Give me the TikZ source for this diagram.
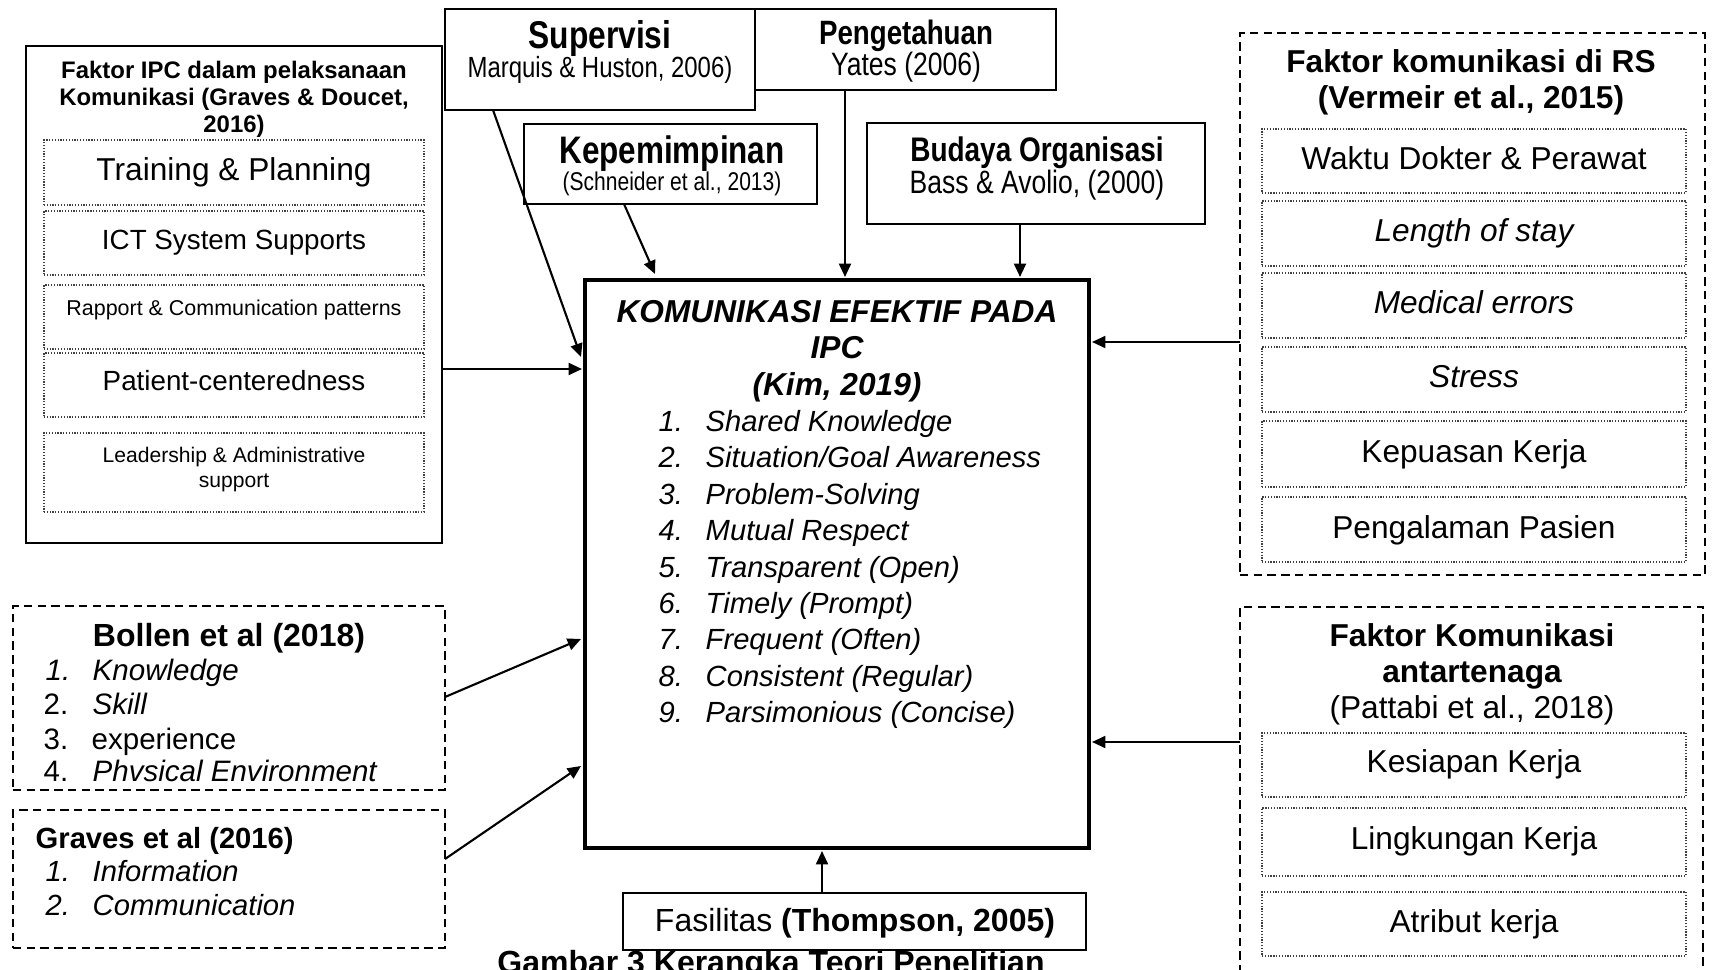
\documentclass[tikz,border=0pt]{standalone}
\usepackage{fontspec}
\setmainfont{Liberation Sans}
\newfontfamily\narrowsans[FakeStretch=0.82]{Liberation Sans}
\usetikzlibrary{arrows.meta,calc,fit}
\newcommand\tsize[1]{\fontsize{#1}{#1}\selectfont}
\begin{document}
\begin{tikzpicture}[x=0.01cm, y=-0.01cm,
  box/.style={draw, line width=0.45pt, fill=white, inner sep=0pt, outer sep=0pt},
  boldbox/.style={draw, line width=0.75pt, fill=white, inner sep=0pt, outer sep=0pt},
  outerdash/.style={draw, line width=0.5pt, dash pattern=on 2.4pt off 1.5pt, inner sep=0pt, outer sep=0pt},
  dotbox/.style={draw=black!75, line width=0.35pt, dash pattern=on 0.35pt off 0.45pt, inner sep=0pt, outer sep=0pt},
  mainbox/.style={draw, line width=1.25pt, inner sep=0pt, outer sep=0pt},
  txt/.style={inner sep=0pt, anchor=base},
  ltxt/.style={inner sep=0pt, anchor=base west},
  link/.style={line width=0.6pt, -{Triangle[length=3.8pt,width=3.4pt]}}]
\useasboundingbox (0,0) rectangle (1712,970);

% ---------- top sources ----------
\node[box, fit={(755,9) (1056,90)}] (peng) {};
\node[txt, font=\narrowsans\tsize{9.6}\bfseries] (pengT) at (906,45) {Pengetahuan};
\node[txt, font=\narrowsans\tsize{9.2}] (pengS) at (906,76) {Yates (2006)};

\node[box, fit={(445,9) (755,110)}] (sup) {};
\node[txt, font=\narrowsans\tsize{11}\bfseries] (supT) at (600,49) {Supervisi};
\node[txt, font=\narrowsans\tsize{8.3}] (supS) at (600,78) {Marquis \& Huston, 2006)};

\node[box, fit={(524,124) (817,204)}] (kep) {};
\node[txt, font=\narrowsans\tsize{10.9}\bfseries] (kepT) at (672,164) {Kepemimpinan};
\node[txt, font=\narrowsans\tsize{7.3}] (kepS) at (672,191) {(Schneider et al., 2013)};

\node[boldbox, fit={(867,123) (1205,224)}] (bud) {};
\node[txt, font=\narrowsans\tsize{9.7}\bfseries] (budT) at (1037,162) {Budaya Organisasi};
\node[txt, font=\narrowsans\tsize{9.2}] (budS) at (1037,193) {Bass \& Avolio, (2000)};

% ---------- central construct ----------
\node[mainbox, fit={(585,280) (1089,848)}] (main) {};
\node[txt, font=\tsize{9}\bfseries\itshape] (mainT1) at (837,322) {KOMUNIKASI EFEKTIF PADA};
\node[txt, font=\tsize{9}\bfseries\itshape] (mainT2) at (837,358) {IPC};
\node[txt, font=\tsize{9}\bfseries\itshape] (mainT3) at (837,395) {(Kim, 2019)};
\foreach \itm [count=\i] in {Shared Knowledge, Situation/Goal Awareness, Problem-Solving,
  Mutual Respect, Transparent (Open), Timely (Prompt), Frequent (Often),
  Consistent (Regular), Parsimonious (Concise)} {
  \node[ltxt, font=\tsize{8.3}\itshape] (kn\i) at (658,{431.5+36.4*(\i-1)}) {\i.};
  \node[ltxt, font=\tsize{8.3}\itshape] (ki\i) at (705,{431.5+36.4*(\i-1)}) {\itm};
}

% ---------- IPC factors (left) ----------
\node[box, fit={(26,46) (442,543)}] (lb) {};
\node[txt, font=\tsize{6.8}\bfseries] (lbT1) at (234,78.6) {Faktor IPC dalam pelaksanaan};
\node[txt, font=\tsize{6.8}\bfseries] (lbT2) at (234,105.6) {Komunikasi (Graves \& Doucet,};
\node[txt, font=\tsize{6.8}\bfseries] (lbT3) at (234,132.6) {2016)};
\node[dotbox, fit={(44,140) (424,205)}] (l1) {};
\node[txt, font=\tsize{9}] (l1T) at (234,180.4) {Training \& Planning};
\node[dotbox, fit={(44,211) (424,275)}] (l2) {};
\node[txt, font=\tsize{7.9}] (l2T) at (234,250) {ICT System Supports};
\node[dotbox, fit={(44,285) (424,349)}] (l3) {};
\node[txt, font=\tsize{6.1}] (l3T) at (234,315.7) {Rapport \& Communication patterns};
\node[dotbox, fit={(44,353) (424,417)}] (l4) {};
\node[txt, font=\tsize{7.9}] (l4T) at (234,390) {Patient-centeredness};
\node[dotbox, fit={(44,433) (424,512)}] (l5) {};
\node[txt, font=\tsize{6.0}] (l5T1) at (234,462.6) {Leadership \& Administrative};
\node[txt, font=\tsize{6.0}] (l5T2) at (234,487.6) {support};

% ---------- Bollen ----------
\node[outerdash, fit={(13,606) (445,790)}] (bo) {};
\node[txt, font=\tsize{9.1}\bfseries] (boT) at (229,646.5) {Bollen et al (2018)};
\node[ltxt, font=\tsize{8.4}\itshape] (bo1n) at (45,680.6) {1.};
\node[ltxt, font=\tsize{8.4}\itshape] (bo1) at (92,680.6) {Knowledge};
\node[ltxt, font=\tsize{8.4}] (bo2n) at (43,714.6) {2.};
\node[ltxt, font=\tsize{8.4}\itshape] (bo2) at (92,714.6) {Skill};
\node[ltxt, font=\tsize{8.4}] (bo3n) at (43,749.6) {3.};
\node[ltxt, font=\tsize{8.4}] (bo3) at (91,749.6) {experience};
\node[ltxt, font=\tsize{8.4}] (bo4n) at (43,781.6) {4.};
\node[ltxt, font=\tsize{8.4}\itshape] (bo4) at (92,781.6) {Phvsical Environment};

% ---------- Graves ----------
\node[outerdash, fit={(13,810) (445,948)}] (gr) {};
\node[ltxt, font=\tsize{8.3}\bfseries] (grT) at (35,848.5) {Graves et al (2016)};
\node[ltxt, font=\tsize{8.3}\itshape] (gr1n) at (45,881.5) {1.};
\node[ltxt, font=\tsize{8.3}\itshape] (gr1) at (92,881.5) {Information};
\node[ltxt, font=\tsize{8.3}\itshape] (gr2n) at (45,915.5) {2.};
\node[ltxt, font=\tsize{8.3}\itshape] (gr2) at (92,915.5) {Communication};

% ---------- hospital communication factors (right) ----------
\node[outerdash, fit={(1240,33) (1705,575)}] (rt) {};
\node[txt, font=\tsize{9}\bfseries] (rtT1) at (1471,72.4) {Faktor komunikasi di RS};
\node[txt, font=\tsize{9}\bfseries] (rtT2) at (1471,108.4) {(Vermeir et al., 2015)};
\node[dotbox, fit={(1262,129) (1686,193)}] (r1) {};
\node[txt, font=\tsize{9}] (r1T) at (1474,169.4) {Waktu Dokter \& Perawat};
\node[dotbox, fit={(1262,201) (1686,266)}] (r2) {};
\node[txt, font=\tsize{9}\itshape] (r2T) at (1474,241.4) {Length of stay};
\node[dotbox, fit={(1262,273) (1686,338)}] (r3) {};
\node[txt, font=\tsize{9}\itshape] (r3T) at (1474,313.4) {Medical errors};
\node[dotbox, fit={(1262,347) (1686,412)}] (r4) {};
\node[txt, font=\tsize{9}\itshape] (r4T) at (1474,387.4) {Stress};
\node[dotbox, fit={(1262,421) (1686,487)}] (r5) {};
\node[txt, font=\tsize{9}] (r5T) at (1474,462.4) {Kepuasan Kerja};
\node[dotbox, fit={(1262,497) (1686,562)}] (r6) {};
\node[txt, font=\tsize{9}] (r6T) at (1474,538.4) {Pengalaman Pasien};

% ---------- inter-professional factors (right, lower) ----------
\node[outerdash, fit={(1240,607) (1703,1010)}] (rb) {};
\node[txt, font=\tsize{9}\bfseries] (rbT1) at (1472,646.4) {Faktor Komunikasi};
\node[txt, font=\tsize{9}\bfseries] (rbT2) at (1472,682.4) {antartenaga};
\node[txt, font=\tsize{9}] (rbT3) at (1472,718.4) {(Pattabi et al., 2018)};
\node[dotbox, fit={(1262,733) (1686,797)}] (k1) {};
\node[txt, font=\tsize{9}] (k1T) at (1474,772.4) {Kesiapan Kerja};
\node[dotbox, fit={(1262,808) (1686,876)}] (k2) {};
\node[txt, font=\tsize{9}] (k2T) at (1474,849.4) {Lingkungan Kerja};
\node[dotbox, fit={(1262,892) (1686,956)}] (k3) {};
\node[txt, font=\tsize{9}] (k3T) at (1474,932.4) {Atribut kerja};

% ---------- facilities ----------
\node[box, fit={(623,893) (1086,950)}] (fa) {};
\node[txt, font=\tsize{9.1}] (faT) at (855,931.5) {Fasilitas \textbf{(Thompson, 2005)}};

% ---------- caption ----------
\node[txt, font=\tsize{9.1}\bfseries] (cap) at (771,973) {Gambar 3 Kerangka Teori Penelitian};

% ---------- connectors ----------
\draw[link] ($(sup.south west)+(48,0)$) -- ($(main.north west)+(-4,77)$);
\draw[link] ($(kep.south west)+(100,0)$) -- ($(main.north west)+(70,-6)$);
\draw[link] ($(peng.south west)+(90,0)$) -- ($(main.north west)+(260,-3)$);
\draw[link] ($(bud.south west)+(153,0)$) -- ($(main.north west)+(435,-3)$);
\draw[link] (lb.east |- 0,369) -- ($(main.north west)+(-3,89)$);
\draw[link] (bo.east |- 0,697) -- ($(main.north west)+(-4,359)$);
\draw[link] (gr.east |- 0,859) -- ($(main.north west)+(-4,486)$);
\draw[link] (rt.west |- 0,342) -- ($(main.north east)+(3,62)$);
\draw[link] (rb.west |- 0,742) -- ($(main.north east)+(3,462)$);
\draw[link] (fa.north -| 822,0) -- ($(main.south west)+(237,3)$);
\end{tikzpicture}
\end{document}
